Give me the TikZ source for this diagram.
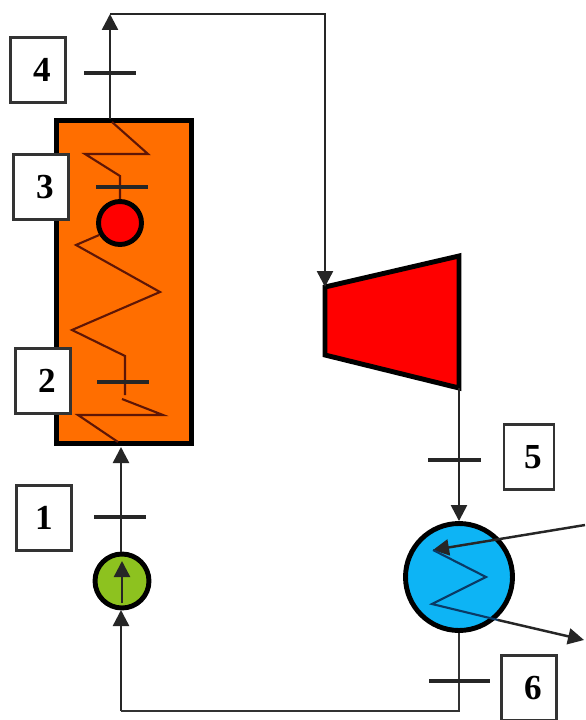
\documentclass[tikz,border=0pt]{standalone}
\usepackage{fontspec}
\setmainfont{Liberation Serif}
\usetikzlibrary{arrows.meta}
\definecolor{boilercol}{HTML}{FF6E00}
\definecolor{pumpcol}{HTML}{8DC21F}
\definecolor{condcol}{HTML}{0DB4F5}
\definecolor{coilcol}{HTML}{5E1606}
\definecolor{tubecol}{HTML}{0A3A66}
\definecolor{edgecol}{HTML}{333333}
\tikzset{
    unit/.style={draw=black, line width=2.8pt, inner sep=0pt},
    wheel/.style={unit, circle},
    statebox/.style={draw=edgecol, line width=1.2pt, fill=white, inner sep=0pt, minimum width=1.1cm, minimum height=1.3cm, font=\bfseries\fontsize{20}{20}\selectfont},
    offbox/.style={statebox, execute at begin node=\hspace{0.16cm}},
    tick/.style={fill=black!85, inner sep=0pt, minimum width=1.06cm, minimum height=0.08cm},
    pipe/.style={draw=edgecol, line width=1.4pt},
    flow/.style={pipe, draw=black!85, -{Triangle[length=0.32cm, width=0.32cm]}},
    coil/.style={draw=coilcol, line width=1.2pt, line join=miter},
    tube/.style={draw=tubecol, line width=1.2pt}
}
\begin{document}
\begin{tikzpicture}[x=0.02cm, y=-0.02cm]
    \clip (0,0) rectangle (585,720);
    \fill[white] (0,0) rectangle (585,720);

    % main units
    \node[unit, fill=boilercol, minimum width=2.7cm, minimum height=6.46cm] (boiler) at (124,282) {};
    \node[wheel, fill=red, minimum size=0.86cm] (reheat) at (120,223) {};
    \node[wheel, fill=pumpcol, minimum size=1.08cm] (pump) at (122,581) {};
    \node[wheel, fill=condcol, minimum size=2.14cm] (cond) at (459,577) {};
    \draw[unit, fill=red, line join=miter] (325,287) coordinate (turbin) -- (459,256) -- (459,388) coordinate (turbout) -- (325,355) -- cycle;

    % fixed points of the pipes
    \coordinate (boilerout) at (110,119);
    \coordinate (topleft) at (110,14);
    \coordinate (topright) at (325,14);
    \coordinate (boilerin) at (121,447);
    \coordinate (pumpin) at (121,610);
    \coordinate (pumpout) at (121,552);
    \coordinate (botleft) at (121,711);
    \coordinate (botright) at (459,711);

    % pipes
    \draw[flow] (boilerout) -- (topleft);
    \draw[flow] (topleft) -- (topright) -- (turbin);
    \draw[flow] (pumpout) -- (boilerin);
    \draw[flow] (botleft) -- (pumpin);
    \draw[pipe] (cond.south) -- (botright) -- (botleft);
    \draw[flow] (turbout) -- (cond.north);

    % coils in the boiler
    \coordinate (c1) at (112,122);
    \coordinate (c2) at (148,154);
    \coordinate (c3) at (85,154);
    \coordinate (c4) at (120,176);
    \coordinate (c5) at (76,245);
    \coordinate (c6) at (160,292);
    \coordinate (c7) at (72,330);
    \coordinate (c8) at (125,356);
    \coordinate (c9) at (125,395);
    \coordinate (c10) at (122,399);
    \coordinate (c11) at (163,415);
    \coordinate (c12) at (78,415);
    \coordinate (c13) at (118,442);
    \draw[coil] (c1) -- (c2) -- (c3) -- (c4) -- (reheat.north);
    \draw[coil] (reheat.210) -- (c5) -- (c6) -- (c7) -- (c8) -- (c9);
    \draw[coil] (c10) -- (c11) -- (c12) -- (c13);

    % arrow in the pump
    \coordinate (pumpa) at (122,603);
    \coordinate (pumpb) at (122,561);
    \draw[flow] (pumpa) -- (pumpb);

    % cooling tube of the condenser
    \coordinate (coolin) at (585,525);
    \coordinate (z1) at (433,550);
    \coordinate (z2) at (486,577);
    \coordinate (z3) at (432,604);
    \coordinate (z4) at (498,620);
    \coordinate (coolout) at (584,640);
    \draw[flow] (coolin) -- (z1);
    \draw[tube] (z1) -- (z2) -- (z3) -- (z4);
    \draw[flow] (z4) -- (coolout);

    % state points
    \node[tick] (t1) at (120,517) {};
    \node[tick] (t2) at (123,382) {};
    \node[tick] (t3) at (122,187) {};
    \node[tick] (t4) at (110,73) {};
    \node[tick] (t5) at (454,460) {};
    \node[tick, minimum width=1.22cm] (t6) at (459,681) {};

    \node[offbox] (s4) at (38,70) {4};
    \node[offbox] (s3) at (41,187) {3};
    \node[offbox] (s2) at (43,381) {2};
    \node[statebox] (s1) at (44,518) {1};
    \node[offbox, minimum width=1cm] (s5) at (529,457) {5};
    \node[offbox] (s6) at (529,688) {6};
\end{tikzpicture}
\end{document}
